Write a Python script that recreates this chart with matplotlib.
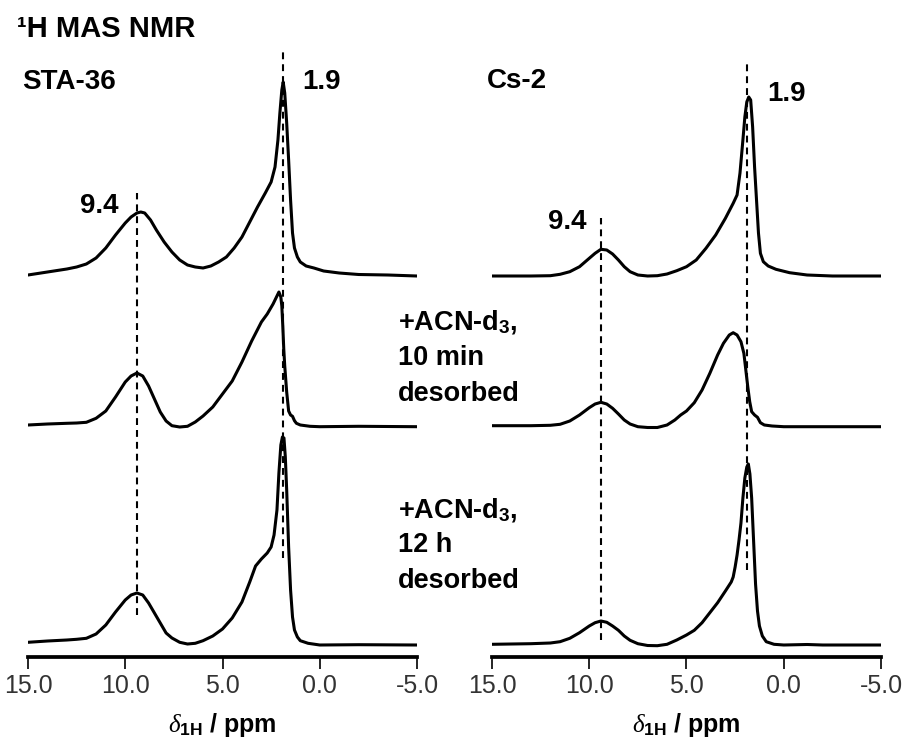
import matplotlib
matplotlib.use("Agg")
import matplotlib.pyplot as plt

# ============================================================
# 1. DATA
# ============================================================
# STA-36, as prepared
sta_top_ppm = [15.0, 14.0, 13.0, 12.5, 12.0, 11.5, 11.0, 10.5, 10.0, 9.7, 9.4, 9.2, 9.0, 8.7, 8.4,
               8.0, 7.6, 7.2, 6.8, 6.4, 6.0, 5.6, 5.2, 4.8, 4.4, 4.0, 3.6, 3.2, 2.8, 2.5,
               2.3, 2.15, 2.05, 1.95, 1.88, 1.8, 1.7, 1.6, 1.5, 1.4, 1.3, 1.15, 1.0, 0.7, 0.3,
               -0.2, -1.0, -2.0, -3.5, -5.0]
sta_top_int = [1, 4, 7, 9, 12, 18, 28, 41, 53, 59, 63, 64, 63, 56, 46,
               34, 24, 16, 11, 9, 8, 10, 14, 19, 28, 39, 54, 69, 83, 94,
               109, 136, 163, 186, 194, 183, 153, 116, 76, 43, 28, 19, 14, 10, 8,
               5, 3, 1.5, 1, 0]

# STA-36, +ACN-d3, 10 min desorbed
sta_mid_ppm = [15.0, 14.0, 13.0, 12.5, 12.0, 11.5, 11.0, 10.5, 10.0, 9.7, 9.4, 9.1, 8.8, 8.5, 8.2,
               7.9, 7.6, 7.2, 6.8, 6.4, 6.0, 5.5, 5.0, 4.5, 4.0, 3.5, 3.0, 2.7, 2.4, 2.2,
               2.1, 2.0, 1.95, 1.9, 1.85, 1.8, 1.7, 1.6, 1.5, 1.4, 1.3, 1.2, 1.0, 0.5, 0.0,
               -2.0, -5.0]
sta_mid_int = [2, 3, 3.7, 4, 4.7, 8.7, 16, 30, 45, 51, 54, 51, 41, 28, 15,
               6, 1.3, 0, 0.7, 5, 11, 20, 33, 46, 65, 86, 105, 113, 123, 131,
               135, 130, 121, 101, 78, 61, 35, 16, 12, 10.7, 6.3, 3.7, 2, 0.7, 0.3,
               0.7, 0.3]

# STA-36, +ACN-d3, 12 h desorbed
sta_bot_ppm = [15.0, 14.0, 13.0, 12.5, 12.0, 11.5, 11.0, 10.5, 10.0, 9.7, 9.4, 9.1, 8.8, 8.5, 8.2,
               7.9, 7.6, 7.2, 6.8, 6.4, 6.0, 5.5, 5.0, 4.5, 4.0, 3.6, 3.3, 3.0, 2.7, 2.5,
               2.35, 2.2, 2.1, 2.0, 1.92, 1.84, 1.77, 1.7, 1.6, 1.5, 1.4, 1.3, 1.15, 1.0, 0.6,
               0.0, -2.0, -5.0]
sta_bot_int = [2.7, 4, 5, 5.7, 6.7, 11, 20, 33, 45, 50, 52, 50, 42, 32, 22,
               12, 7, 2.7, 1, 1.7, 4.3, 9, 16, 27, 43, 63, 79, 86, 92, 98,
               110, 135, 172, 200, 208, 207, 188, 155, 98, 55, 28, 15, 8, 4.3, 1.7,
               0, 0.3, 0]

# Cs-2, as prepared
cs_top_ppm = [15.0, 13.0, 12.0, 11.5, 11.0, 10.5, 10.0, 9.7, 9.4, 9.1, 8.8, 8.5, 8.2, 7.9, 7.5,
              7.0, 6.5, 6.0, 5.5, 5.0, 4.5, 4.0, 3.5, 3.0, 2.6, 2.4, 2.25, 2.1, 2.0, 1.9,
              1.8, 1.7, 1.6, 1.5, 1.4, 1.3, 1.2, 1.05, 0.8, 0.4, -0.3, -1.2, -2.5, -5.0]
cs_top_int = [0, 0, 0.3, 1.7, 4.3, 9.3, 17.7, 22.7, 26.7, 26, 22, 16, 9.3, 4.3, 1,
              0, 0.3, 2, 5.3, 9.3, 16, 27.7, 41, 57.7, 72.7, 81, 103, 136, 159, 174,
              179, 176, 149, 109, 76, 43, 22.7, 14.3, 10, 6.7, 3.3, 1, 0, 0]

# Cs-2, +ACN-d3, 10 min desorbed
cs_mid_ppm = [15.0, 13.0, 12.0, 11.5, 11.0, 10.5, 10.0, 9.7, 9.4, 9.1, 8.8, 8.5, 8.2, 7.9, 7.5,
              7.0, 6.5, 6.0, 5.6, 5.3, 5.0, 4.6, 4.2, 3.8, 3.4, 3.1, 2.8, 2.6, 2.4, 2.2,
              2.05, 1.95, 1.85, 1.75, 1.65, 1.5, 1.35, 1.2, 1.0, 0.6, 0.0, -5.0]
cs_mid_int = [1.3, 1.3, 1.7, 2.7, 6, 12, 19.3, 23, 24.7, 23, 18.7, 13, 7, 3, 0.3,
              -0.5, -0.5, 2, 7, 12, 16, 24.3, 37, 53.7, 72, 83.7, 92, 94.3, 92, 85.3,
              73.7, 57, 40.3, 25.3, 15.3, 12, 9.7, 4.3, 2, 1, 0.3, 0.3]

# Cs-2, +ACN-d3, 12 h desorbed
cs_bot_ppm = [15.0, 13.0, 12.0, 11.5, 11.0, 10.5, 10.0, 9.7, 9.4, 9.1, 8.8, 8.5, 8.2, 7.9, 7.5,
              7.0, 6.5, 6.0, 5.5, 5.0, 4.6, 4.2, 3.8, 3.4, 3.0, 2.7, 2.6, 2.5, 2.4, 2.3,
              2.2, 2.1, 2.0, 1.9, 1.82, 1.74, 1.65, 1.55, 1.45, 1.35, 1.25, 1.1, 0.9, 0.5, 0.0,
              -1.2, -2.0, -5.0]
cs_bot_int = [0.7, 1.3, 2, 3.3, 6.7, 12.3, 19, 22.3, 24, 22.7, 19, 14.7, 9, 4.7, 1.3,
              -0.5, -0.7, 0.7, 5, 10, 14.7, 22.3, 32.3, 42.3, 54, 63, 68, 78, 90, 105,
              122, 147, 167, 178, 181, 171, 147, 104, 61, 34, 19, 9, 3.3, 0.7, 0,
              0.5, 0, 0]

offsets = [381, 230, 12]          # vertical stacking of the three spectra
peaks = [9.4, 1.9]                # marked shifts (ppm)
peak_labels = ["9.4", "1.9"]
xticks = [15.0, 10.0, 5.0, 0.0, -5.0]

panels = [
    ("STA-36", [(sta_top_ppm, sta_top_int), (sta_mid_ppm, sta_mid_int), (sta_bot_ppm, sta_bot_int)]),
    ("Cs-2", [(cs_top_ppm, cs_top_int), (cs_mid_ppm, cs_mid_int), (cs_bot_ppm, cs_bot_int)]),
]

# ============================================================
# 2. STYLE / LAYOUT (pixel based, 910 x 738)
# ============================================================
plt.rcParams["font.family"] = ["Liberation Sans", "DejaVu Sans"]
plt.rcParams["mathtext.fontset"] = "custom"
plt.rcParams["mathtext.rm"] = "Liberation Sans"
plt.rcParams["mathtext.bf"] = "Liberation Sans:bold"
plt.rcParams["mathtext.it"] = "Liberation Serif:italic"

W, H = 910, 738
fig = plt.figure(figsize=(W / 100, H / 100), dpi=100)


def fx(x):
    return x / W


def fy(y):
    return 1 - y / H


axes_left = [28, 492]
ax_w = 389
ax_bottom = 657

# dashed marker extents (data units, per panel, per peak)
dash_span = [[(42, 464), (99, 607)], [(17, 439), (87, 594)]]

axs = []
for i, (name, spectra) in enumerate(panels):
    ax = fig.add_axes([fx(axes_left[i]), fy(ax_bottom), ax_w / W, ax_bottom / H])
    for (ppm, inten), off in zip(spectra, offsets):
        ax.plot(ppm, [v + off for v in inten], color="black", lw=2.2,
                solid_joinstyle="round", solid_capstyle="round")
    for p, (y0, y1) in zip(peaks, dash_span[i]):
        ax.vlines(p, y0, y1, colors="black", lw=1.5, linestyles=(0, (3.3, 2.4)))
    ax.set_xlim(15, -5)
    ax.set_ylim(0, ax_bottom)
    for s in ["top", "left", "right"]:
        ax.spines[s].set_visible(False)
    ax.spines["bottom"].set_linewidth(2.7)
    ax.set_yticks([])
    ax.set_xticks(xticks)
    ax.set_xticklabels([f"{t:.1f}" for t in xticks])
    ax.tick_params(axis="x", direction="out", length=8.5, width=1.2, pad=4,
                   labelsize=18, labelcolor="#333333")
    ax.set_xlabel(r"$\delta_{\mathbf{1H}}$ / ppm", fontsize=18, fontweight="bold", labelpad=9)
    ax.patch.set_alpha(0)
    axs.append(ax)

# ============================================================
# 3. TEXT
# ============================================================
fig.text(fx(17), fy(37), "\u00b9H MAS NMR", fontsize=21, fontweight="bold", va="baseline")
fig.text(fx(22), fy(89), panels[0][0], fontsize=20, fontweight="bold", va="baseline")
fig.text(fx(487), fy(88), panels[1][0], fontsize=20, fontweight="bold", va="baseline")

fig.text(fx(80), fy(213), peak_labels[0], fontsize=20, fontweight="bold", va="baseline")
fig.text(fx(302), fy(89), peak_labels[1], fontsize=20, fontweight="bold", va="baseline")
fig.text(fx(548), fy(229), peak_labels[0], fontsize=20, fontweight="bold", va="baseline")
fig.text(fx(767), fy(101), peak_labels[1], fontsize=20, fontweight="bold", va="baseline")

note_10min = [r"+ACN-d$_\mathbf{3}$,", "10 min", "desorbed"]
note_12h = [r"+ACN-d$_\mathbf{3}$,", "12 h", "desorbed"]
for line, base in zip(note_10min, [330, 365.5, 401]):
    fig.text(fx(398), fy(base), line, fontsize=19.5, fontweight="bold", va="baseline")
for line, base in zip(note_12h, [517, 552.5, 588]):
    fig.text(fx(398), fy(base), line, fontsize=19.5, fontweight="bold", va="baseline")

fig.savefig("out.png", dpi=100)
plt.close(fig)
